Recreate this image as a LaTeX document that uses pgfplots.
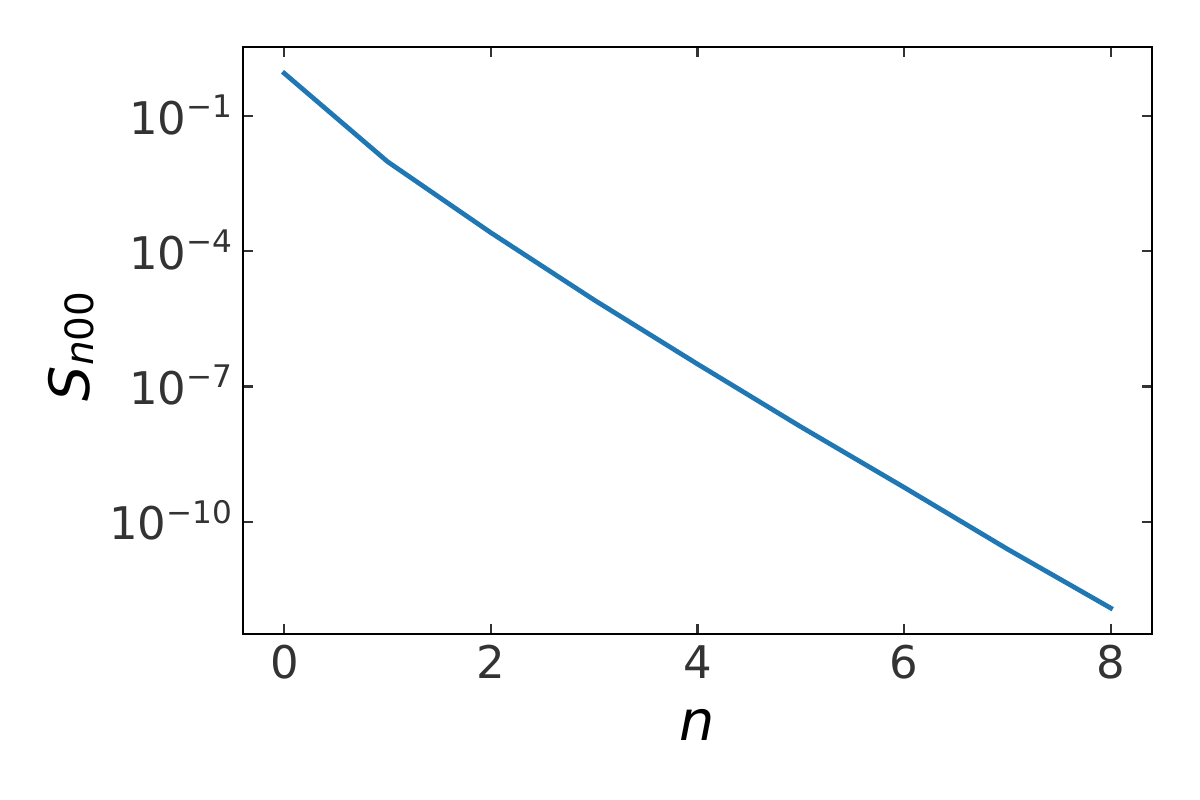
\documentclass[border=0pt]{standalone}
\usepackage{fontspec}
\setmainfont{DejaVu Sans}
\usepackage{pgfplots}
\pgfplotsset{compat=1.18}
\definecolor{mplblue}{HTML}{1F77B4}
\definecolor{tickgray}{HTML}{333333}
% 10^{-k} tick label in the text font
\newcommand\tenpow[1]{10\raisebox{6pt}{\fontsize{11.2}{12}\selectfont −#1}}
\begin{document}
\begin{tikzpicture}
\begin{axis}[
  at={(87.48pt,59.76pt)}, anchor=south west,
  scale only axis, width=327.24pt, height=211.32pt,
  xmin=-0.4, xmax=8.4,
  ymode=log, ymin=3.24e-13, ymax=3.40,
  xtick={0,2,4,6,8}, xticklabels={0,2,4,6,8},
  ytick={1e-1,1e-4,1e-7,1e-10},
  yticklabels={\tenpow{1},\tenpow{4},\tenpow{7},\tenpow{10}},
  minor tick num=0,
  tick align=inside, tick pos=both, major tick length=3.5pt,
  every tick/.style={tickgray, line width=0.8pt},
  axis line style={line width=0.8pt},
  tick label style={font=\fontsize{16.2}{19}\selectfont, text=tickgray, inner sep=0pt},
  xticklabel style={anchor=base, yshift=-16.2pt},
  yticklabel style={anchor=base east, xshift=-3.7pt, yshift=-6.5pt},
  label style={font=\fontsize{20}{24}\selectfont, inner sep=0pt},
  xlabel={\itshape n},
  xlabel style={at={(axis description cs:0.5,-0.1806)}, anchor=base},
  ylabel={\itshape S\raisebox{-1.5pt}{\fontsize{14}{14}\selectfont\itshape n\upshape 00}},
  ylabel style={at={(axis description cs:-0.169,0.49)}, anchor=base, rotate=0},
]
\addplot[mplblue, line width=1.7pt, line cap=rect, line join=round] coordinates {
  (0, 0.885)
  (1, 9.7e-3)
  (2, 2.58e-4)
  (3, 8.3e-6)
  (4, 3.15e-7)
  (5, 1.28e-8)
  (6, 5.8e-10)
  (7, 2.48e-11)
  (8, 1.22e-12)
};
\end{axis}
\pgfresetboundingbox
\useasboundingbox (0,0) rectangle (432pt,288pt);
\end{tikzpicture}
\end{document}
